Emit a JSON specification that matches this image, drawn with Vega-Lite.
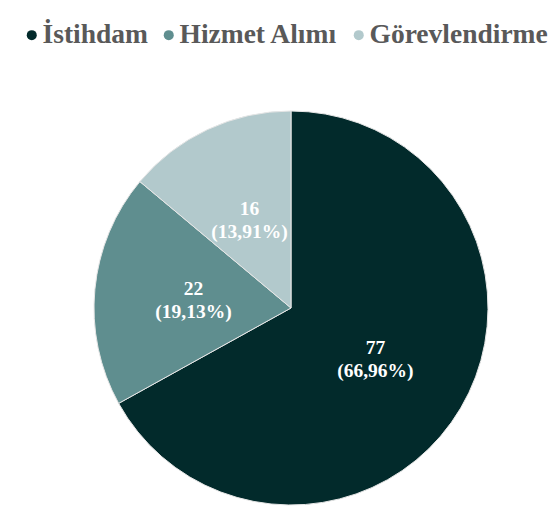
{
  "$schema": "https://vega.github.io/schema/vega-lite/v6.json",
  "autosize": {"type": "none"},
  "width": 530,
  "height": 436,
  "padding": {"left": 26, "top": 90, "right": 0, "bottom": 1},
  "background": "white",
  "config": {"view": {"stroke": null}},
  "data": {
    "values": [
      {"category": "İstihdam", "value": 77, "k": 1},
      {"category": "Hizmet Alımı", "value": 22, "k": 2},
      {"category": "Görevlendirme", "value": 16, "k": 3}
    ]
  },
  "transform": [
    {"joinaggregate": [{"op": "sum", "field": "value", "as": "total"}]},
    {"calculate": "datum.value + '\\n(' + replace(format(datum.value / datum.total, '.2%'), '.', ',') + ')'", "as": "label"}
  ],
  "encoding": {
    "theta": {"field": "value", "type": "quantitative", "stack": true},
    "order": {"field": "k", "type": "quantitative"}
  },
  "layer": [
    {
      "mark": {"type": "arc", "outerRadius": 197, "stroke": "#e6e6e6", "strokeWidth": 1},
      "encoding": {
        "color": {
          "field": "category",
          "type": "nominal",
          "sort": null,
          "scale": {
            "domain": ["İstihdam", "Hizmet Alımı", "Görevlendirme"],
            "range": ["#022a2b", "#5f8e8f", "#b2c9cc"]
          },
          "legend": {
            "title": null,
            "orient": "none",
            "direction": "horizontal",
            "legendX": -8,
            "legendY": -69,
            "symbolType": "circle",
            "symbolSize": 100,
            "symbolStrokeWidth": 0,
            "labelFont": "Liberation Serif",
            "labelFontSize": 27.5,
            "labelFontWeight": "bold",
            "labelColor": "#595959",
            "labelOffset": -3,
            "columnPadding": 7,
            "labelLimit": 300
          }
        }
      }
    },
    {
      "mark": {
        "type": "text",
        "radius": 98,
        "font": "Liberation Serif",
        "fontSize": 19.5,
        "fontWeight": "bold",
        "fill": "white",
        "lineBreak": "\n",
        "lineHeight": 23,
        "align": "center",
        "baseline": "middle",
        "dy": -10
      },
      "encoding": {
        "text": {"field": "label", "type": "nominal"}
      }
    }
  ]
}
